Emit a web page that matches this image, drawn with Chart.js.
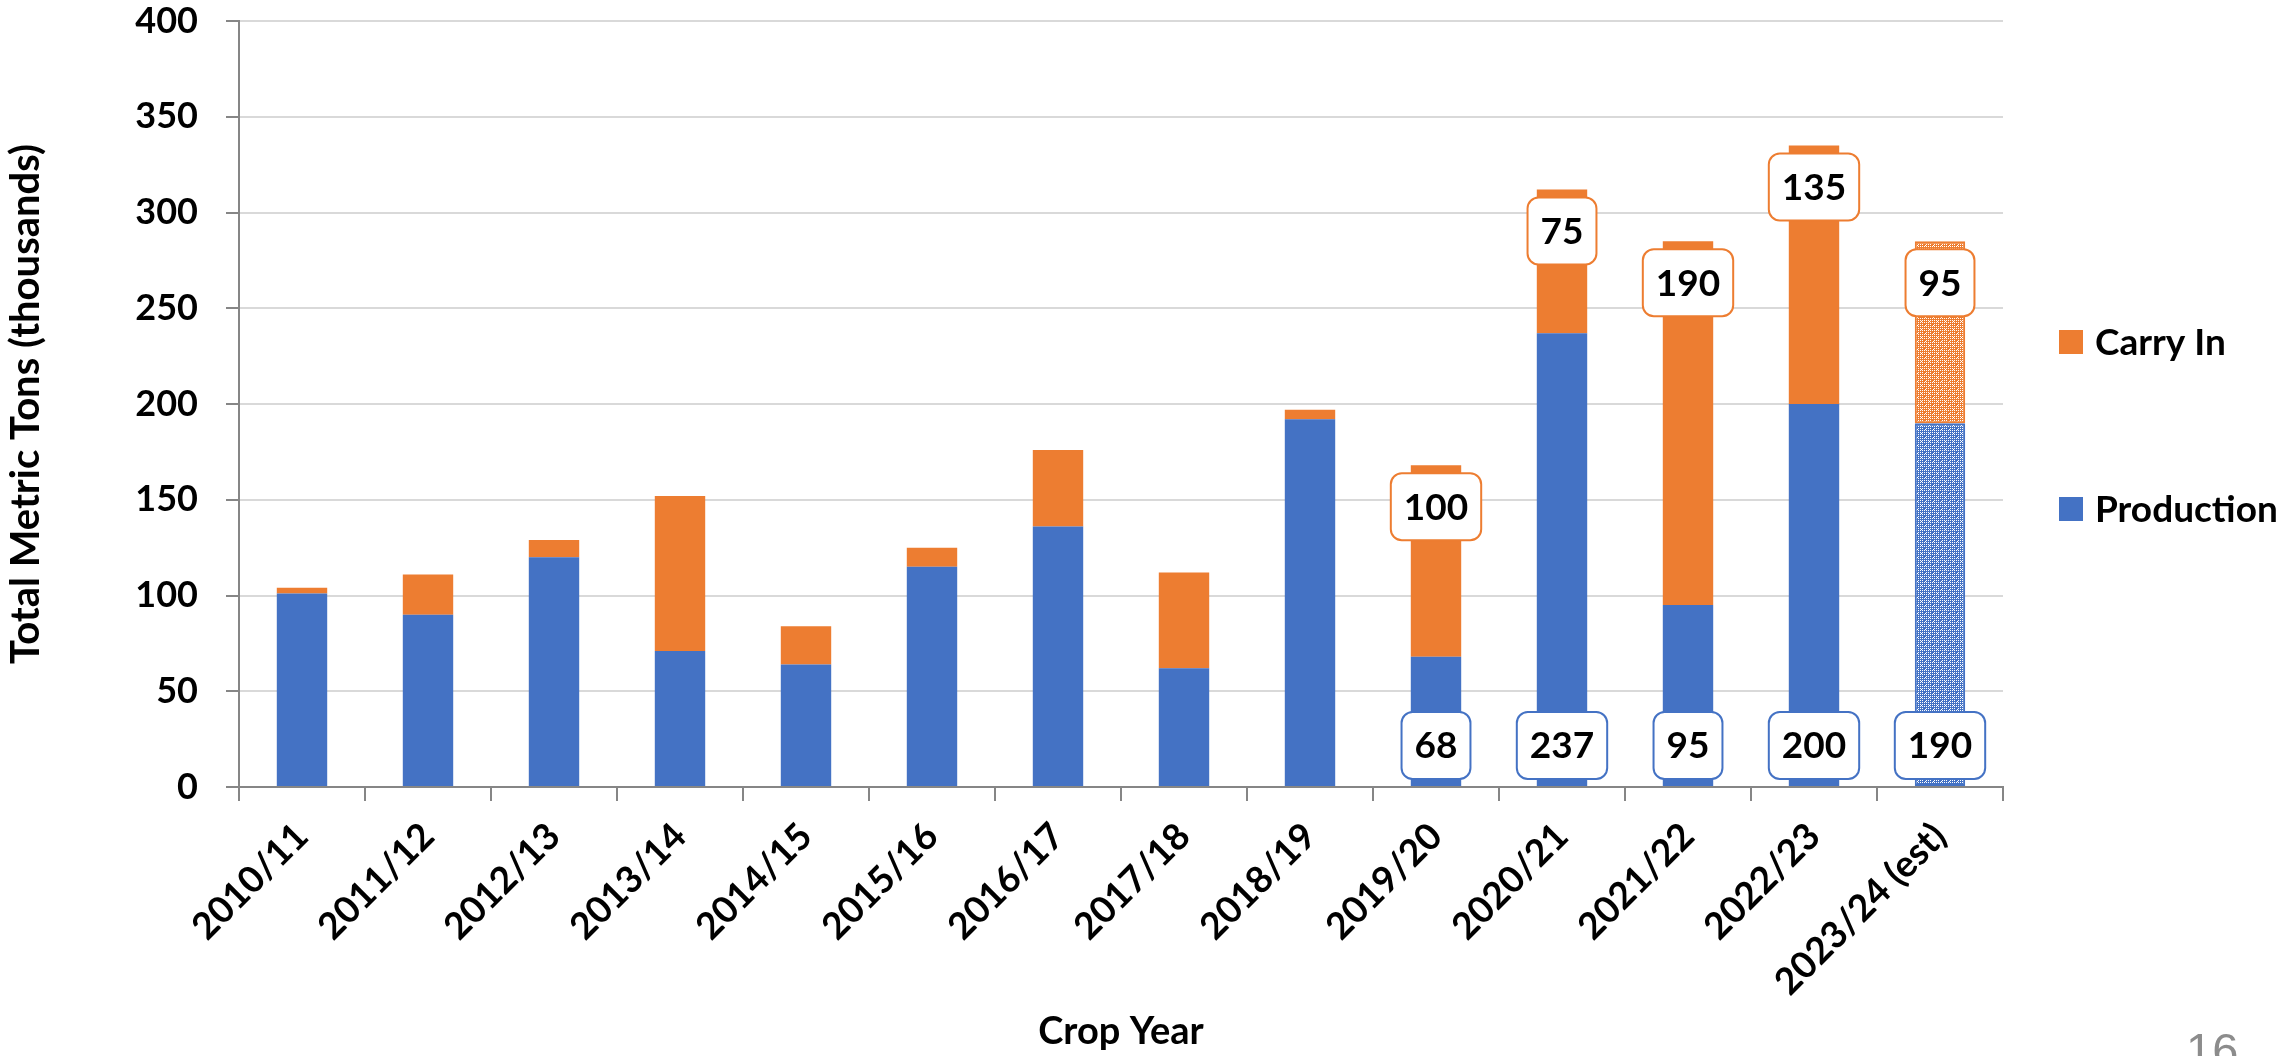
<!DOCTYPE html>
<html>
<head>
<meta charset="utf-8">
<script src="https://cdn.jsdelivr.net/npm/chart.js@4.4.1/dist/chart.umd.min.js"></script>
<style>
  html, body { margin: 0; padding: 0; background: #fff; }
  #wrap { width: 2287px; height: 1056px; }
</style>
</head>
<body>
<div id="wrap"><canvas id="cropChart" width="2287" height="1056"></canvas></div>
<script>
// Crop years on the x axis
const years = ['2010/11', '2011/12', '2012/13', '2013/14', '2014/15', '2015/16', '2016/17',
    '2017/18', '2018/19', '2019/20', '2020/21', '2021/22', '2022/23', '2023/24 (est)'];

// Thousands of metric tons
const production = [101, 90, 120, 71, 64, 115, 136, 62, 192, 68, 237, 95, 200, 190];
const carryIn = [3, 21, 9, 81, 20, 10, 40, 50, 5, 100, 75, 190, 135, 95];

// Years that carry value callouts, and the estimated year drawn with a pattern
const labelledYears = ['2019/20', '2020/21', '2021/22', '2022/23', '2023/24 (est)'];
const estimateYear = '2023/24 (est)';

const yTicks = [0, 50, 100, 150, 200, 250, 300, 350, 400];

const BLUE = '#4472C4';
const ORANGE = '#ED7D31';
const FONT = 'Lato, "Open Sans", sans-serif';

const canvas = document.getElementById('cropChart');
const ctx = canvas.getContext('2d');

// small dotted fill like the Excel pattern on the estimate bar
function makePattern(color) {
    const c = document.createElement('canvas');
    c.width = 8;
    c.height = 8;
    const g = c.getContext('2d');
    g.fillStyle = color;
    g.fillRect(0, 0, 8, 8);
    g.fillStyle = '#fff';
    for (let y = 0; y < 8; y += 2) {
        for (let x = 0; x < 8; x += 2) {
            if (x === 4 && y === 4) continue;
            g.fillRect(x, y, 1, 1);
        }
    }
    g.fillRect(1, 1, 1, 1);
    g.fillRect(5, 5, 1, 1);
    return ctx.createPattern(c, 'repeat');
}

const estIndex = years.indexOf(estimateYear);
function fills(color) {
    const pat = makePattern(color);
    return years.map((y, i) => i === estIndex ? pat : color);
}

// fixed axis sizes so the plot area sits where the original does
function noPad(scale) {
    scale.paddingTop = 0;
    scale.paddingBottom = 0;
    scale.paddingLeft = 0;
    scale.paddingRight = 0;
}

// value callouts, legend and page number
const overlayPlugin = {
    id: 'overlay',
    afterDatasetsDraw(chart) {
        const c = chart.ctx;
        c.save();
        c.font = 'bold 37px ' + FONT;
        c.textAlign = 'center';
        c.textBaseline = 'middle';
        chart.data.datasets.forEach((ds, di) => {
            const meta = chart.getDatasetMeta(di);
            meta.data.forEach((bar, i) => {
                if (!labelledYears.includes(years[i])) return;
                const text = String(ds.data[i]);
                const w = c.measureText(text).width + 26;
                const h = 67;
                let top;
                if (ds.label === 'Production') {
                    top = bar.base - 7 - h;
                } else {
                    top = bar.y + 8;
                }
                c.beginPath();
                c.roundRect(bar.x - w / 2, top, w, h, 11);
                c.fillStyle = '#fff';
                c.fill();
                c.lineWidth = 2;
                c.strokeStyle = ds.label === 'Production' ? BLUE : ORANGE;
                c.stroke();
                c.fillStyle = '#000';
                c.fillText(text, bar.x, top + h / 2 + 1);
            });
        });
        c.restore();
    },
    afterDraw(chart) {
        const c = chart.ctx;
        c.save();
        const items = [['Carry In', ORANGE, 342], ['Production', BLUE, 509]];
        c.font = 'bold 37px ' + FONT;
        c.textAlign = 'left';
        c.textBaseline = 'middle';
        items.forEach(([name, color, y]) => {
            c.fillStyle = color;
            c.fillRect(2059, y - 12, 24, 24);
            c.fillStyle = '#000';
            c.fillText(name, 2095, y + 1);
        });
        c.font = '47px "Liberation Sans", Arial, sans-serif';
        c.fillStyle = '#8c8c8c';
        c.textAlign = 'left';
        c.textBaseline = 'alphabetic';
        c.fillText('16', 2186, 1066);
        c.restore();
    }
};

const cropChart = new Chart(ctx, {
    type: 'bar',
    data: {
        labels: years,
        datasets: [{
            label: 'Production',
            data: production,
            backgroundColor: fills(BLUE),
            borderColor: BLUE,
            borderWidth: years.map((y, i) => i === estIndex ? 2 : 0),
            borderSkipped: false,
            barPercentage: 0.4,
            categoryPercentage: 1
        }, {
            label: 'Carry In',
            data: carryIn,
            backgroundColor: fills(ORANGE),
            borderColor: ORANGE,
            borderWidth: years.map((y, i) => i === estIndex ? 2 : 0),
            borderSkipped: false,
            barPercentage: 0.4,
            categoryPercentage: 1
        }]
    },
    options: {
        responsive: false,
        animation: false,
        events: [],
        layout: { padding: { left: 0, right: 284, top: 21, bottom: 0 } },
        plugins: {
            legend: { display: false },
            tooltip: { enabled: false }
        },
        scales: {
            x: {
                stacked: true,
                afterFit(scale) { scale.height = 269; noPad(scale); },
                border: { color: '#868686', width: 2 },
                grid: {
                    drawOnChartArea: false,
                    drawTicks: true,
                    tickLength: 14,
                    tickColor: '#868686',
                    lineWidth: 2
                },
                ticks: {
                    color: '#000',
                    font: { family: FONT, size: 37, weight: 'bold', lineHeight: 1 },
                    maxRotation: 45,
                    minRotation: 45,
                    padding: 16,
                    autoSkip: false
                },
                title: {
                    display: true,
                    text: 'Crop Year',
                    color: '#000',
                    font: { family: FONT, size: 38, weight: 'bold' },
                    padding: { top: 0, bottom: 1 }
                }
            },
            y: {
                stacked: true,
                min: yTicks[0],
                max: yTicks[yTicks.length - 1],
                afterFit(scale) { scale.width = 239; noPad(scale); },
                afterBuildTicks(scale) { scale.ticks = yTicks.map(v => ({ value: v })); },
                border: { color: '#868686', width: 2 },
                grid: {
                    color: '#d9d9d9',
                    lineWidth: 2,
                    tickLength: 13,
                    tickColor: '#868686'
                },
                ticks: {
                    color: '#000',
                    font: { family: FONT, size: 36, weight: 'bold', lineHeight: 1 },
                    padding: 28
                },
                title: {
                    display: true,
                    text: 'Total Metric Tons (thousands)',
                    color: '#000',
                    font: { family: FONT, size: 40, weight: 'bold' },
                    padding: { top: 2, bottom: 0 }
                }
            }
        }
    },
    plugins: [overlayPlugin]
});
</script>
</body>
</html>
